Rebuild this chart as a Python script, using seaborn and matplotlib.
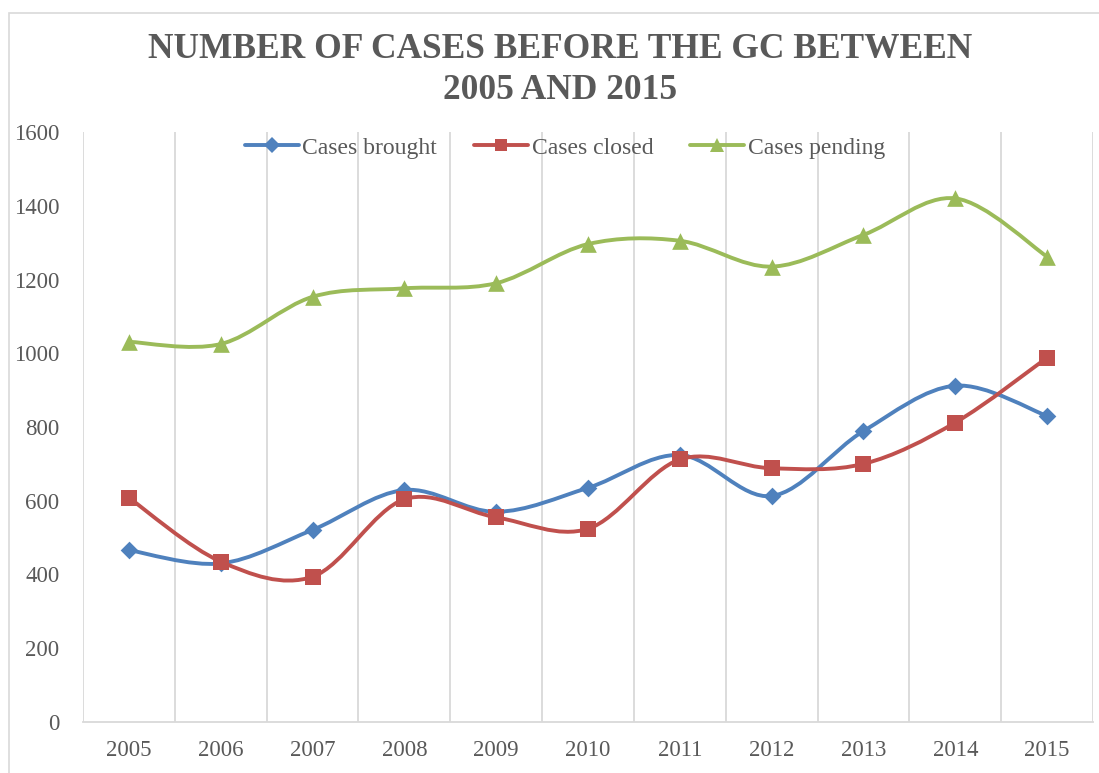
import numpy as np
import pandas as pd
import matplotlib
matplotlib.use("Agg")
import matplotlib.pyplot as plt
import seaborn as sns
from matplotlib.path import Path
from matplotlib.patches import PathPatch, Rectangle
from matplotlib.lines import Line2D

years = [2005, 2006, 2007, 2008, 2009, 2010, 2011, 2012, 2013, 2014, 2015]
cases_brought = [466, 430, 521, 629, 570, 635, 724, 613, 789, 912, 830]
cases_closed = [608, 435, 394, 604, 555, 524, 712, 688, 700, 812, 988]
cases_pending = [1031, 1025, 1153, 1176, 1190, 1296, 1305, 1235, 1321, 1420, 1262]
series_names = ["Cases brought", "Cases closed", "Cases pending"]
title_text = "NUMBER OF CASES BEFORE THE GC BETWEEN\n2005 AND 2015"
y_ticks = [0, 200, 400, 600, 800, 1000, 1200, 1400, 1600]

colors = {"Cases brought": "#4F81BD", "Cases closed": "#C0504D", "Cases pending": "#9BBB59"}
markers = {"Cases brought": "D", "Cases closed": "s", "Cases pending": "^"}
msizes = {"Cases brought": 9, "Cases closed": 11, "Cases pending": 12}

sns.set_theme(style="white")
plt.rcParams["font.family"] = ["Liberation Serif", "DejaVu Serif"]
TXT = "#595959"
GRID = "#D9D9D9"

df = pd.DataFrame({
    "Year": years * 3,
    "Cases": cases_brought + cases_closed + cases_pending,
    "Series": sum([[n] * len(years) for n in series_names], []),
})

fig = plt.figure(figsize=(10.99, 7.73), dpi=100)
W, H = 1099, 773
ax = fig.add_axes([83 / W, 1 - 722 / H, (1093 - 83) / W, (722 - 132) / H])


def smooth_path(xs, ys):
    pts = np.column_stack([np.asarray(xs, float), np.asarray(ys, float)])
    n = len(pts)
    verts = [pts[0]]
    codes = [Path.MOVETO]
    for i in range(n - 1):
        p0 = pts[i - 1] if i > 0 else pts[i]
        p1 = pts[i]
        p2 = pts[i + 1]
        p3 = pts[i + 2] if i + 2 < n else pts[i + 1]
        c1 = p1 + (p2 - p0) / 6.0
        c2 = p2 - (p3 - p1) / 6.0
        verts += [c1, c2, p2]
        codes += [Path.CURVE4] * 3
    return Path(verts, codes)


for k, name in enumerate(series_names):
    sub = df[df["Series"] == name]
    patch = PathPatch(smooth_path(sub["Year"], sub["Cases"]), facecolor="none",
                      edgecolor=colors[name], lw=2.8, zorder=3 + 2 * k,
                      capstyle="round", joinstyle="round")
    ax.add_patch(patch)
    sns.scatterplot(data=sub, x="Year", y="Cases", color=colors[name],
                    marker=markers[name], s=msizes[name] ** 2, linewidth=0,
                    ax=ax, zorder=4 + 2 * k, legend=False)

ax.set_xlim(years[0] - 0.5, years[-1] + 0.5)
ax.set_ylim(0, 1600)
ax.set_xticks(years)
ax.set_xticklabels([str(y) for y in years])
ax.set_xticks(np.arange(years[0] - 0.5, years[-1] + 1, 1), minor=True)
ax.set_yticks(y_ticks)
ax.set_yticklabels([str(v) for v in y_ticks])
ax.grid(False)
ax.grid(which="minor", axis="x", color=GRID, lw=1.3)
ax.tick_params(axis="both", which="both", length=0)
ax.tick_params(axis="y", pad=17, labelsize=16.5, labelcolor=TXT)
ax.tick_params(axis="x", pad=13, labelsize=16.5, labelcolor=TXT)
ax.set_xlabel("")
ax.set_ylabel("")
for s in ["top", "right", "left"]:
    ax.spines[s].set_visible(False)
ax.spines["bottom"].set_color(GRID)
ax.spines["bottom"].set_linewidth(1.3)

handles = [Line2D([0], [0], color=colors[n], lw=2.8, marker=markers[n],
                  markersize=msizes[n] * 0.85, markeredgewidth=0) for n in series_names]
leg = ax.legend(handles, series_names, loc="center", bbox_to_anchor=(0.477, 0.973),
                ncol=3, frameon=False, fontsize=17, handlelength=2.3,
                handletextpad=0.15, columnspacing=1.55, borderaxespad=0)
for t in leg.get_texts():
    t.set_color(TXT)

fig.text(560 / W, 1 - 70 / H, title_text, ha="center", va="center",
         fontsize=25.5, fontweight="bold", color=TXT, linespacing=1.3)

fig.patches.append(Rectangle((8.5 / W, -0.1), 1.2, (H - 13) / H + 0.1,
                             transform=fig.transFigure, fill=False,
                             edgecolor=GRID, lw=1.2))

fig.savefig("out.png", dpi=100)
